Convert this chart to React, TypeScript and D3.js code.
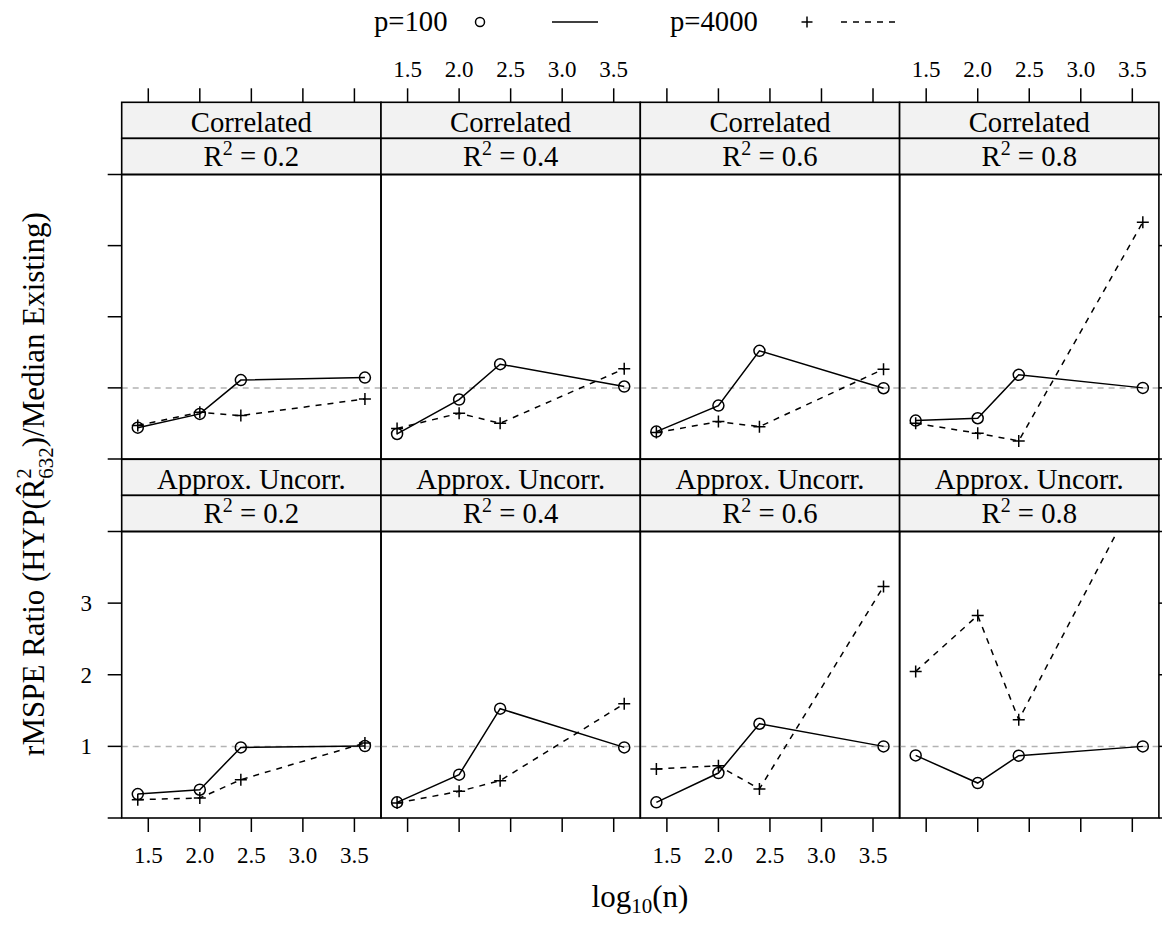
import * as d3 from "d3";

// log10(n) for n = 25, 100, 250, 4000
const logN = [1.398, 2.0, 2.398, 3.602];
const r2Labels = ["0.2", "0.4", "0.6", "0.8"];
const rowNames = ["Correlated", "Approx. Uncorr."];
const xTicks = [1.5, 2.0, 2.5, 3.0, 3.5];
const yTicks = [0, 1, 2, 3, 4];
const yTickLabels = ["1", "2", "3"];

// rMSPE ratio, one array per R^2 panel
const corrP100 = [
  [0.44, 0.634, 1.11, 1.145],
  [0.352, 0.836, 1.333, 1.019],
  [0.385, 0.751, 1.521, 0.995],
  [0.54, 0.573, 1.183, 1.0],
];
const corrP4000 = [
  [0.47, 0.657, 0.61, 0.845],
  [0.43, 0.643, 0.502, 1.268],
  [0.371, 0.526, 0.455, 1.263],
  [0.502, 0.362, 0.254, 3.33],
];
const uncorrP100 = [
  [0.334, 0.395, 0.986, 1.005],
  [0.219, 0.605, 1.526, 0.986],
  [0.219, 0.628, 1.316, 1.0],
  [0.874, 0.488, 0.87, 1.0],
];
const uncorrP4000 = [
  [0.256, 0.279, 0.535, 1.047],
  [0.209, 0.372, 0.521, 1.595],
  [0.684, 0.73, 0.405, 3.233],
  [2.047, 2.828, 1.372, 4.68],
];

const font = "'Liberation Serif', 'DejaVu Serif', serif";
const left = 121.7;
const panelW = 259.3;
const stripH = 36.1;
const rows = [
  { top: 174.5, bottom: 459, p100: corrP100, p4000: corrP4000 },
  { top: 531.5, bottom: 818, p100: uncorrP100, p4000: uncorrP4000 },
];
const tickLen = 14;

const xScale = d3.scaleLinear().domain([1.242, 3.758]).range([0, panelW]);
const fmt = d3.format(".1f");

const Plus = ({ x, y, s = 6 }: { x: number; y: number; s?: number }) => (
  <path d={`M${x - s},${y}H${x + s}M${x},${y - s}V${y + s}`} stroke="black" strokeWidth={1.5} />
);

const App = () => {
  const line = d3.line<[number, number]>();
  return (
    <svg width={1162} height={928} style={{ position: "absolute", left: 0, top: 0, background: "white" }} fontFamily={font}>
      <defs>
        {rows.map((row, r) =>
          r2Labels.map((_, c) => (
            <clipPath id={`clip-${r}-${c}`} key={`${r}-${c}`}>
              <rect x={left + c * panelW} y={row.top} width={panelW} height={row.bottom - row.top} />
            </clipPath>
          ))
        )}
      </defs>

      {/* legend */}
      <g fontSize={28.7}>
        <text x={374} y={31}>p=100</text>
        <circle cx={480} cy={22} r={4.5} fill="none" stroke="black" strokeWidth={1.5} />
        <line x1={552} x2={598} y1={22} y2={22} stroke="black" strokeWidth={1.5} />
        <text x={670} y={31}>p=4000</text>
        <Plus x={807} y={22} s={5.5} />
        <line x1={841} x2={896} y1={22} y2={22} stroke="black" strokeWidth={1.5} strokeDasharray="6 6" />
      </g>

      {/* top and bottom axes */}
      {r2Labels.map((_, c) => {
        const x0 = left + c * panelW;
        return (
          <g key={`xa${c}`}>
            {xTicks.map((t) => (
              <g key={t}>
                <line x1={x0 + xScale(t)} x2={x0 + xScale(t)} y1={rows[0].top - 2 * stripH} y2={rows[0].top - 2 * stripH - tickLen} stroke="black" strokeWidth={1.5} />
                <line x1={x0 + xScale(t)} x2={x0 + xScale(t)} y1={rows[1].bottom} y2={rows[1].bottom + tickLen} stroke="black" strokeWidth={1.5} />
                {c % 2 === 1 && (
                  <text x={x0 + xScale(t)} y={77} textAnchor="middle" fontSize={23}>{fmt(t)}</text>
                )}
                {c % 2 === 0 && (
                  <text x={x0 + xScale(t)} y={863} textAnchor="middle" fontSize={23}>{fmt(t)}</text>
                )}
              </g>
            ))}
          </g>
        );
      })}

      {rows.map((row, r) => {
        const yScale = d3.scaleLinear().domain([0, 4]).range([row.bottom, row.top]);
        return (
          <g key={`row${r}`}>
            {/* y ticks, both sides */}
            {yTicks.map((t) => (
              <g key={t}>
                <line x1={left - tickLen} x2={left} y1={yScale(t)} y2={yScale(t)} stroke="black" strokeWidth={1.5} />
                <line x1={left + 4 * panelW} x2={left + 4 * panelW + tickLen} y1={yScale(t)} y2={yScale(t)} stroke="black" strokeWidth={1.5} />
              </g>
            ))}
            {r === 1 &&
              yTickLabels.map((lab) => (
                <text key={lab} x={92} y={yScale(+lab) + 8} textAnchor="end" fontSize={23}>{lab}</text>
              ))}
            {r2Labels.map((lab, c) => {
              const x0 = left + c * panelW;
              const p100 = logN.map((x, i) => [x0 + xScale(x), yScale(row.p100[c][i])] as [number, number]);
              const p4000 = logN.map((x, i) => [x0 + xScale(x), yScale(row.p4000[c][i])] as [number, number]);
              const sTop = row.top - 2 * stripH;
              return (
                <g key={lab}>
                  {/* strips */}
                  <rect x={x0} y={sTop} width={panelW} height={stripH} fill="#f2f2f2" stroke="black" strokeWidth={1.6} />
                  <rect x={x0} y={sTop + stripH} width={panelW} height={stripH} fill="#f2f2f2" stroke="black" strokeWidth={1.6} />
                  <text x={x0 + panelW / 2} y={sTop + 29.5} textAnchor="middle" fontSize={28.7}>{rowNames[r]}</text>
                  <text x={x0 + panelW / 2} y={sTop + stripH + 28} textAnchor="middle" fontSize={28.7}>
                    <tspan>R</tspan>
                    <tspan fontSize={20} dy={-11}>2</tspan>
                    <tspan dy={11}>{` = ${lab}`}</tspan>
                  </text>
                  <g clipPath={`url(#clip-${r}-${c})`}>
                    <line x1={x0} x2={x0 + panelW} y1={yScale(1)} y2={yScale(1)} stroke="#b3b3b3" strokeWidth={1.5} strokeDasharray="6 5" />
                    <path d={line(p100) ?? ""} fill="none" stroke="black" strokeWidth={1.5} />
                    <path d={line(p4000) ?? ""} fill="none" stroke="black" strokeWidth={1.5} strokeDasharray="6 6" />
                    {p100.map(([x, y], i) => (
                      <circle key={i} cx={x} cy={y} r={5.5} fill="none" stroke="black" strokeWidth={1.5} />
                    ))}
                    {p4000.map(([x, y], i) => (
                      <Plus key={i} x={x} y={y} />
                    ))}
                  </g>
                  <rect x={x0} y={row.top} width={panelW} height={row.bottom - row.top} fill="none" stroke="black" strokeWidth={1.6} />
                </g>
              );
            })}
          </g>
        );
      })}

      {/* axis titles */}
      <text x={640} y={907} textAnchor="middle" fontSize={31}>
        <tspan>log</tspan>
        <tspan fontSize={21} dy={6}>10</tspan>
        <tspan dy={-6}>(n)</tspan>
      </text>
      <text transform="translate(44,484) rotate(-90)" textAnchor="middle" fontSize={31}>
        <tspan>{"rMSPE Ratio (HYP(R\u0302"}</tspan>
        <tspan fontSize={21} dy={-13}>2</tspan>
        <tspan fontSize={21} dx={-10.5} dy={22}>632</tspan>
        <tspan dy={-9}>)/Median Existing)</tspan>
      </text>
    </svg>
  );
};

export default App;
